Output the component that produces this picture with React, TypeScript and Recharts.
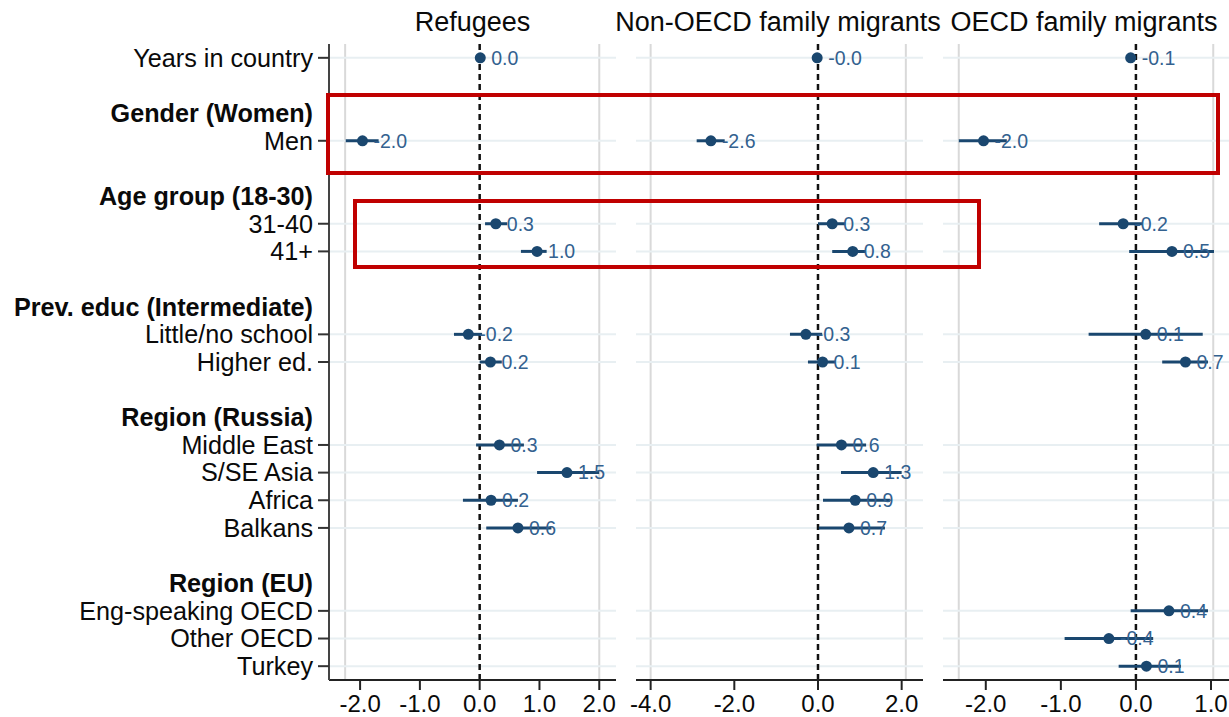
import React from 'react';
import { ScatterChart, Scatter, XAxis, YAxis, ErrorBar, ReferenceLine } from 'recharts';

const FONT = '"Liberation Sans", Arial, sans-serif';

const rowLabels = [
  'Years in country', '',
  'Gender (Women)', 'Men', '',
  'Age group (18-30)', '31-40', '41+', '',
  'Prev. educ (Intermediate)', 'Little/no school', 'Higher ed.', '',
  'Region (Russia)', 'Middle East', 'S/SE Asia', 'Africa', 'Balkans', '',
  'Region (EU)', 'Eng-speaking OECD', 'Other OECD', 'Turkey',
];
const headerLabels = ['Gender (Women)', 'Age group (18-30)', 'Prev. educ (Intermediate)', 'Region (Russia)', 'Region (EU)'];
const variables = [
  'Years in country', 'Men', '31-40', '41+', 'Little/no school', 'Higher ed.',
  'Middle East', 'S/SE Asia', 'Africa', 'Balkans', 'Eng-speaking OECD', 'Other OECD', 'Turkey',
];
const panelTitles = ['Refugees', 'Non-OECD family migrants', 'OECD family migrants'];

// Refugees
const refCoef = [0.01, -1.96, 0.27, 0.96, -0.19, 0.18, 0.33, 1.46, 0.19, 0.64, null, null, null];
const refLo = [-0.02, -2.24, 0.09, 0.69, -0.43, 0.0, -0.06, 0.96, -0.28, 0.11, null, null, null];
const refHi = [0.04, -1.69, 0.46, 1.12, 0.04, 0.37, 0.74, 2.0, 0.64, 1.2, null, null, null];
// Non-OECD family migrants
const nonCoef = [-0.02, -2.56, 0.34, 0.83, -0.29, 0.11, 0.56, 1.32, 0.89, 0.74, null, null, null];
const nonLo = [-0.05, -2.9, 0.0, 0.34, -0.67, -0.24, -0.03, 0.55, 0.12, 0.02, null, null, null];
const nonHi = [0.02, -2.23, 0.65, 1.13, 0.1, 0.41, 1.15, 2.0, 1.72, 1.6, null, null, null];
// OECD family migrants
const oecdCoef = [-0.07, -2.03, -0.17, 0.48, 0.13, 0.66, null, null, null, null, 0.44, -0.36, 0.14];
const oecdLo = [-0.1, -2.36, -0.49, -0.09, -0.63, 0.35, null, null, null, null, -0.07, -0.95, -0.23];
const oecdHi = [-0.04, -1.72, 0.09, 1.04, 0.89, 0.96, null, null, null, null, 0.96, 0.23, 0.6];

const xTicks1 = [-2, -1, 0, 1, 2];
const xTicks2 = [-4, -2, 0, 2];
const xTicks3 = [-2, -1, 0, 1];
const xDomain1: [number, number] = [-2.52, 2.28];
const xDomain2: [number, number] = [-4.35, 2.51];
const xDomain3: [number, number] = [-2.57, 1.24];
const gridX1 = [-2.25, 2];
const gridX2 = [-4, 2.1];
const gridX3 = [-2.36, 1.03];

const NAVY = '#1a476f';
const LABEL_BLUE = '#33618f';
const AXIS_X = 329;
const H = 717;

function buildData(coef: (number | null)[], lo: (number | null)[], hi: (number | null)[]) {
  const out: any[] = [];
  variables.forEach((v, i) => {
    const c = coef[i];
    if (c == null) return;
    out.push({
      row: rowLabels.indexOf(v),
      coef: c,
      err: [c - (lo[i] as number), (hi[i] as number) - c],
      txt: c.toFixed(1),
    });
  });
  return out;
}

const dataRows = rowLabels
  .map((l, i) => ({ l, i }))
  .filter((d) => d.l !== '' && !headerLabels.includes(d.l))
  .map((d) => d.i);
const yTicks = rowLabels.map((_, i) => i);

const RowTick = (props: any) => {
  const { y, payload } = props;
  const label = rowLabels[payload.value];
  if (!label) return <g />;
  const isHeader = headerLabels.includes(label);
  return (
    <g>
      {!isHeader && <line x1={AXIS_X - 11} x2={AXIS_X} y1={y} y2={y} stroke="#333" strokeWidth={2} />}
      <text
        x={AXIS_X - 16}
        y={y}
        dy="0.35em"
        textAnchor="end"
        fontSize={25.2}
        fontWeight={isHeader ? 700 : 400}
        fill="#0a0a0a"
        fontFamily={FONT}
      >
        {label}
      </text>
    </g>
  );
};

const LabelShape = (props: any) => {
  const { cx, cy, payload } = props;
  return (
    <text x={cx + 11} y={cy} dy="0.35em" fontSize={19.5} fill={LABEL_BLUE} fontFamily={FONT}>
      {payload.txt}
    </text>
  );
};

const DotShape = (props: any) => {
  const { cx, cy } = props;
  return <circle cx={cx} cy={cy} r={5.5} fill={NAVY} />;
};

type PanelProps = {
  data: any[];
  ticks: number[];
  domain: [number, number];
  gridX: number[];
  width: number;
  left: number;
  margin: any;
  showY: boolean;
};

const Panel = ({ data, ticks, domain, gridX, width, left, margin, showY }: PanelProps) => (
  <div style={{ position: 'absolute', left, top: 0 }}>
    <ScatterChart width={width} height={H} margin={margin}>
      <XAxis
        type="number"
        dataKey="coef"
        domain={domain}
        ticks={ticks}
        interval={0}
        allowDataOverflow
        tickFormatter={(v: number) => v.toFixed(1)}
        height={37}
        tickSize={10}
        tickMargin={5}
        axisLine={{ stroke: '#222', strokeWidth: 2 }}
        tickLine={{ stroke: '#222', strokeWidth: 2 }}
        tick={{ fontSize: 24, fill: '#0a0a0a', fontFamily: FONT }}
      />
      <YAxis
        type="number"
        dataKey="row"
        domain={[-0.5, 22.5]}
        reversed
        ticks={yTicks}
        interval={0}
        allowDataOverflow
        hide={!showY}
        width={showY ? AXIS_X : 0}
        tickLine={false}
        axisLine={{ stroke: '#444', strokeWidth: 2 }}
        tick={<RowTick />}
      />
      {gridX.map((g) => (
        <ReferenceLine key={'gx' + g} x={g} stroke="#d9d9d9" strokeWidth={2} />
      ))}
      {dataRows.map((r) => (
        <ReferenceLine key={'gy' + r} y={r} stroke="#e8eff2" strokeWidth={2} />
      ))}
      <ReferenceLine x={0} stroke="#111" strokeWidth={2.5} strokeDasharray="6 4" />
      <Scatter data={data} dataKey="coef" shape={<LabelShape />} isAnimationActive={false} />
      <Scatter data={data} dataKey="coef" shape={<DotShape />} isAnimationActive={false}>
        <ErrorBar dataKey="err" direction="x" width={0} stroke={NAVY} strokeWidth={3} />
      </Scatter>
    </ScatterChart>
  </div>
);

export default function App() {
  const refData = buildData(refCoef, refLo, refHi);
  const nonData = buildData(nonCoef, nonLo, nonHi);
  const oecdData = buildData(oecdCoef, oecdLo, oecdHi);
  const titleX = [472.5, 778, 1084];
  return (
    <div style={{ position: 'absolute', left: 0, top: 0, width: 1229, height: H, background: '#fff', fontFamily: FONT }}>
      <Panel data={refData} ticks={xTicks1} domain={xDomain1} gridX={gridX1} width={620} left={0}
        margin={{ top: 44, right: 4, bottom: 0, left: 0 }} showY />
      <Panel data={nonData} ticks={xTicks2} domain={xDomain2} gridX={gridX2} width={300} left={626}
        margin={{ top: 44, right: 3, bottom: 0, left: 10 }} showY={false} />
      <Panel data={oecdData} ticks={xTicks3} domain={xDomain3} gridX={gridX3} width={296} left={933}
        margin={{ top: 44, right: 0, bottom: 0, left: 10 }} showY={false} />
      <svg width={1229} height={H} style={{ position: 'absolute', left: 0, top: 0, pointerEvents: 'none' }}>
        {panelTitles.map((t, i) => (
          <text key={t} x={titleX[i]} y={31} textAnchor="middle" fontSize={27} fill="#0a0a0a" fontFamily={FONT}>
            {t}
          </text>
        ))}
        <rect x={328} y={95} width={890} height={78} fill="none" stroke="#c00000" strokeWidth={4} />
        <rect x={355} y={201} width={624} height={66} fill="none" stroke="#c00000" strokeWidth={4} />
      </svg>
    </div>
  );
}
